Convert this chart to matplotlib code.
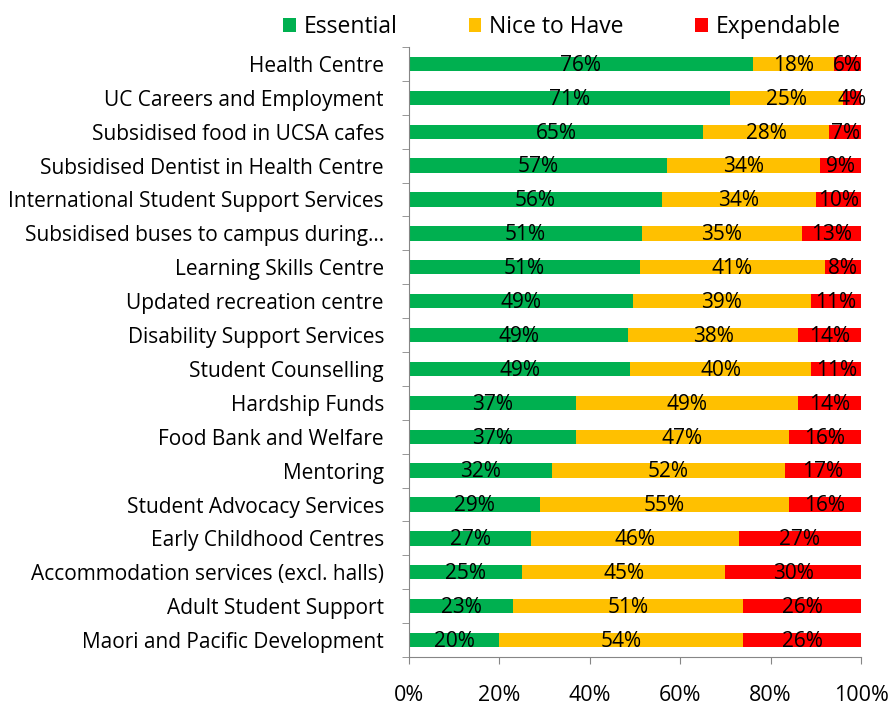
import numpy as np
import matplotlib
matplotlib.use("Agg")
import matplotlib.pyplot as plt

plt.rcParams['font.family'] = ['Open Sans', 'DejaVu Sans']

categories = [
    "Health Centre",
    "UC Careers and Employment",
    "Subsidised food in UCSA cafes",
    "Subsidised Dentist in Health Centre",
    "International Student Support Services",
    "Subsidised buses to campus during\u2026",
    "Learning Skills Centre",
    "Updated recreation centre",
    "Disability Support Services",
    "Student Counselling",
    "Hardship Funds",
    "Food Bank and Welfare",
    "Mentoring",
    "Student Advocacy Services",
    "Early Childhood Centres",
    "Accommodation services (excl. halls)",
    "Adult Student Support",
    "Maori and Pacific Development",
]
essential = [76, 71, 65, 57, 56, 51, 51, 49, 49, 49, 37, 37, 32, 29, 27, 25, 23, 20]
nice = [18, 25, 28, 34, 34, 35, 41, 39, 38, 40, 49, 47, 52, 55, 46, 45, 51, 54]
expendable = [6, 4, 7, 9, 10, 13, 8, 11, 14, 11, 14, 16, 17, 16, 27, 30, 26, 26]

series = [("Essential", essential, '#00b050'),
          ("Nice to Have", nice, '#ffc000'),
          ("Expendable", expendable, '#ff0000')]

tot = np.array(essential) + np.array(nice) + np.array(expendable)
y = np.arange(len(categories))

fig = plt.figure(figsize=(8.92, 7.09), dpi=100)
ax = fig.add_axes([409 / 892, 1 - 657 / 709, 452 / 892, 610 / 709])

left = np.zeros(len(categories))
handles = []
for name, vals, col in series:
    frac = np.array(vals) / tot
    h = ax.barh(y, frac, left=left, height=0.42, color=col, label=name)
    handles.append(h)
    for yi, l, f, v in zip(y, left, frac, vals):
        ax.text(l + f / 2, yi + 0.04, f"{v}%", ha='center', va='center', fontsize=15, color='black')
    left = left + frac

ax.set_ylim(len(categories) - 0.5, -0.5)
ax.set_xlim(0, 1)
ax.set_yticks(y)
ax.set_yticklabels(categories, fontsize=15)
ax.set_yticks(np.arange(-0.5, len(categories), 1), minor=True)
ax.tick_params(axis='y', which='major', length=0, pad=18)
ax.tick_params(axis='y', which='minor', length=5, color='#868686', direction='out')
ax.set_xticks(np.linspace(0, 1, 6))
ax.set_xticklabels([f"{int(v)}%" for v in np.linspace(0, 100, 6)], fontsize=15.5)
ax.tick_params(axis='x', length=5, color='#868686', direction='out', pad=15)
for s in ['top', 'right']:
    ax.spines[s].set_visible(False)
for s in ['left', 'bottom']:
    ax.spines[s].set_color('#868686')

fig.legend(handles=handles, loc='upper center', bbox_to_anchor=(0.63, 1.008), ncol=3,
           frameon=False, fontsize=16.5, handlelength=0.55, handleheight=0.55,
           handletextpad=0.35, columnspacing=3.1)

fig.savefig("out.png", dpi=100)
